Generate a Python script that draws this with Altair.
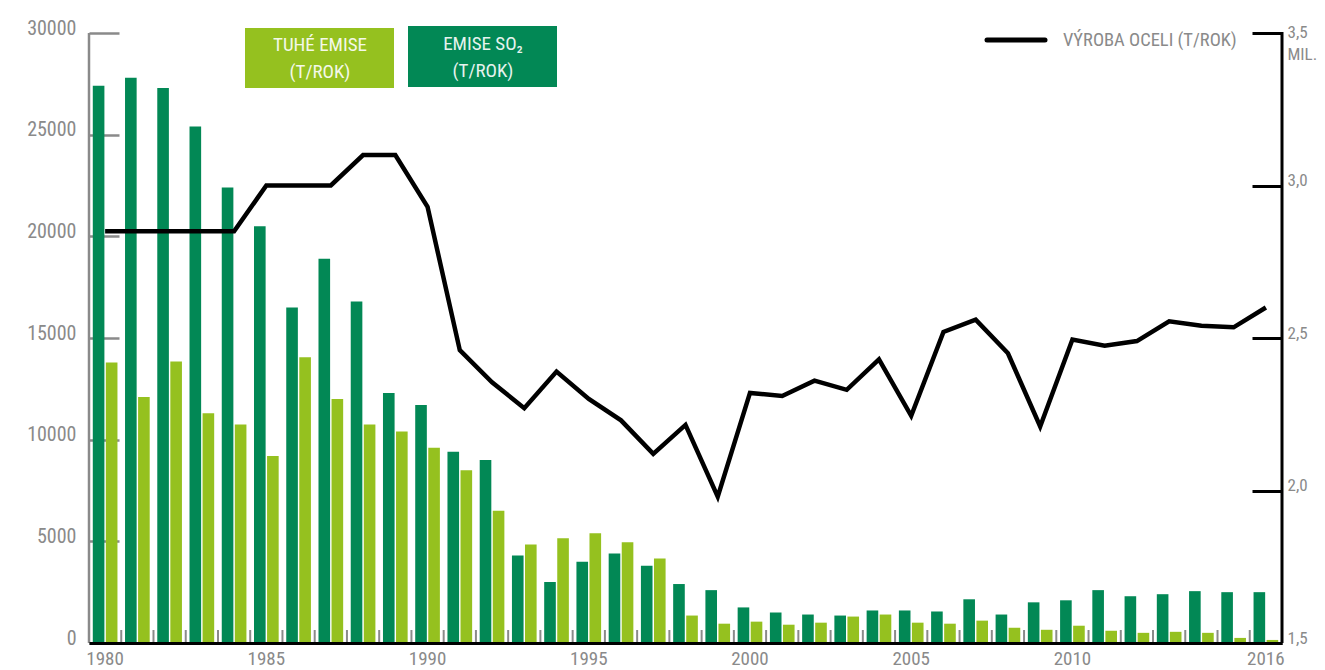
import altair as alt
import pandas as pd

FONT = "Roboto Condensed, Roboto, sans-serif"
GRAY = "#8a8a8a"
DARK = "#028855"
LIGHT = "#95c11f"

years = list(range(1980, 2017))
so2 = [27400, 27800, 27300, 25400, 22400, 20500, 16500, 18900, 16800, 12300,
       11700, 9400, 9000, 4300, 3000, 4000, 4400, 3800, 2900, 2600,
       1750, 1500, 1400, 1350, 1600, 1600, 1550, 2150, 1400, 2000,
       2100, 2600, 2300, 2400, 2550, 2500, 2500]
tuhe = [13800, 12100, 13850, 11300, 10750, 9200, 14050, 12000, 10750, 10400,
        9600, 8500, 6500, 4850, 5150, 5400, 4950, 4150, 1350, 950,
        1050, 900, 1000, 1300, 1400, 1000, 950, 1100, 750, 650,
        850, 600, 500, 550, 500, 250, 150]
steel = [2.85, 2.85, 2.85, 2.85, 2.85, 3.0, 3.0, 3.0, 3.1, 3.1,
         2.93, 2.46, 2.355, 2.27, 2.39, 2.30, 2.23, 2.12, 2.215, 1.98,
         2.32, 2.31, 2.36, 2.33, 2.43, 2.245, 2.52, 2.56, 2.45, 2.21,
         2.495, 2.475, 2.49, 2.555, 2.54, 2.535, 2.60]

labeled_years = [1980, 1985, 1990, 1995, 2000, 2005, 2010, 2016]
left_ticks = [0, 5000, 10000, 15000, 20000, 25000, 30000]
right_ticks = [1.5, 2.0, 2.5, 3.0, 3.5]
series_names = ["EMISE SO2", "TUHÉ EMISE"]
legend_tuhe = ["TUHÉ EMISE", "(T/ROK)"]
legend_so2 = ["EMISE SO₂", "(T/ROK)"]
legend_steel = "VÝROBA OCELI (T/ROK)"

W, H = 1193, 610

bars_df = pd.DataFrame({
    "year": years * 2,
    "series": [series_names[0]] * len(years) + [series_names[1]] * len(years),
    "value": so2 + tuhe,
})
steel_df = pd.DataFrame({"year": years, "steel": steel})
ticks_df = pd.DataFrame({"year": years[1:]})
one = pd.DataFrame({"k": [0]})

x_scale = alt.Scale(domain=years, paddingInner=0, paddingOuter=0)
label_expr = ("indexof([" + ",".join(f"'{y}'" for y in labeled_years)
              + "], datum.label) >= 0 ? datum.label : ''")
x_axis = alt.Axis(title=None, labelExpr=label_expr, labelAngle=0, ticks=False,
                  tickSize=0, domainColor="black", domainWidth=3, labelFont=FONT,
                  labelFontSize=19, labelColor=GRAY, labelPadding=6,
                  labelOverlap=False, labelFlush=False, zindex=1)

bars = alt.Chart(bars_df).mark_bar().encode(
    x=alt.X("year:O", scale=x_scale, axis=x_axis),
    xOffset=alt.XOffset("series:N", scale=alt.Scale(domain=series_names,
                                                     paddingInner=0.11, paddingOuter=0.29)),
    y=alt.Y("value:Q", scale=alt.Scale(domain=[0, 30000], nice=False),
            axis=alt.Axis(title=None, values=left_ticks, format="d", orient="left",
                          offset=-30, tickSize=30, tickColor=GRAY, tickWidth=2.5,
                          domain=False, grid=False, labelFont=FONT, labelFontSize=20,
                          labelColor=GRAY, labelPadding=13, labelOffset=-5,
                          labelFlush=False)),
    color=alt.Color("series:N", scale=alt.Scale(domain=series_names, range=[DARK, LIGHT]),
                    legend=None),
)

band_ticks = alt.Chart(ticks_df).mark_rule(color=GRAY, strokeWidth=2).encode(
    x=alt.X("year:O", scale=x_scale, bandPosition=0, axis=x_axis),
    y=alt.value(H - 13), y2=alt.value(H),
)

left_line = alt.Chart(one).mark_rule(color=GRAY, strokeWidth=2.5).encode(
    x=alt.value(0), y=alt.value(0), y2=alt.value(H)
)

steel_line = alt.Chart(steel_df).mark_line(color="black", strokeWidth=4.5).encode(
    x=alt.X("year:O", scale=x_scale, axis=x_axis),
    y=alt.Y("steel:Q", scale=alt.Scale(domain=[1.5, 3.5], nice=False, zero=False),
            axis=alt.Axis(title=None, orient="right", values=right_ticks, offset=-30,
                          tickSize=30, tickColor="black", tickWidth=3, domain=False,
                          grid=False,
                          labelExpr="datum.value == 3.5 ? ['3,5', 'MIL.'] : replace(format(datum.value, '.1f'), '.', ',')",
                          labelFont=FONT, labelFontSize=17, labelColor=GRAY,
                          labelPadding=5, labelAlign="left",
                          labelOffset={"condition": {"test": "datum.value == 3.5", "value": -1},
                                       "value": -5},
                          labelLineHeight=22, labelFlush=False)),
)

right_line = alt.Chart(one).mark_rule(color="black", strokeWidth=3).encode(
    x=alt.value(W), y=alt.value(-1), y2=alt.value(H)
)

box_tuhe = alt.Chart(one).mark_rect(color=LIGHT).encode(
    x=alt.value(156), x2=alt.value(305), y=alt.value(-5), y2=alt.value(55))
box_so2 = alt.Chart(one).mark_rect(color=DARK).encode(
    x=alt.value(319), x2=alt.value(468), y=alt.value(-7), y2=alt.value(54))
txt_tuhe = alt.Chart(one).mark_text(font=FONT, fontSize=19, color="white", opacity=0.9,
                                     align="center", baseline="middle", lineHeight=27).encode(
    x=alt.value(231), y=alt.value(12), text=alt.value(legend_tuhe))
txt_so2 = alt.Chart(one).mark_text(font=FONT, fontSize=19, color="white", opacity=0.9,
                                    align="center", baseline="middle", lineHeight=27).encode(
    x=alt.value(394), y=alt.value(11), text=alt.value(legend_so2))
leg_line = alt.Chart(one).mark_rule(color="black", strokeWidth=5, strokeCap="round").encode(
    x=alt.value(898), x2=alt.value(956), y=alt.value(7))
leg_text = alt.Chart(one).mark_text(font=FONT, fontSize=18.5, color=GRAY, align="left",
                                     baseline="middle").encode(
    x=alt.value(974), y=alt.value(7), text=alt.value(legend_steel))

left = alt.layer(left_line, band_ticks, bars)
right = alt.layer(steel_line, right_line, box_tuhe, box_so2, txt_tuhe, txt_so2, leg_line, leg_text)

chart = alt.layer(left, right).resolve_scale(y="independent").properties(
    width=W, height=H,
    padding={"left": 81, "top": 25, "right": 35, "bottom": 27},
    autosize=alt.AutoSizeParams(type="none"),
).configure_view(stroke=None)

chart.save("out.html", embed_options={"renderer": "svg", "actions": False})
